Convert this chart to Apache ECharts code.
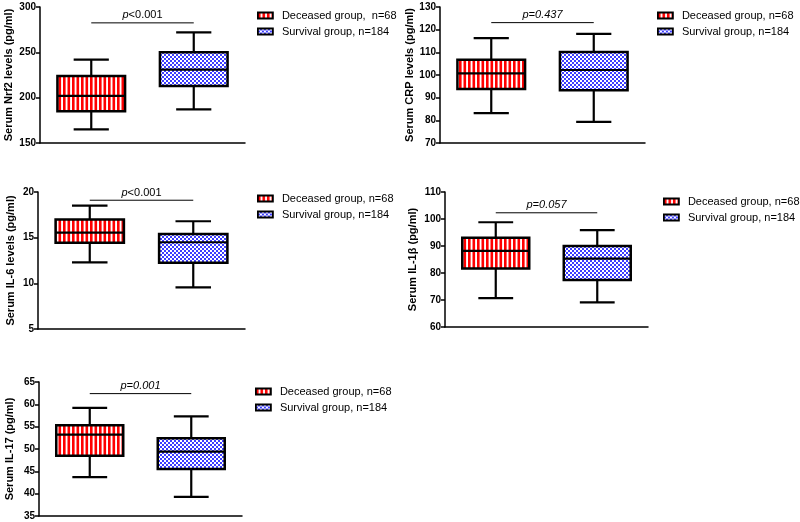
<!DOCTYPE html>
<html>
<head>
<meta charset="utf-8">
<script src="https://cdn.jsdelivr.net/npm/echarts@6/dist/echarts.min.js"></script>
<style>
html, body { margin: 0; padding: 0; background: #fff; }
#main { width: 800px; height: 522px; }
</style>
</head>
<body>
<div id="main"></div>
<script>
// groups on the x axis
var groups = ['Deceased', 'Survival'];

// box values: [min, Q1, median, Q3, max]
var nrf2Deceased = [165, 185, 202, 224, 242];
var nrf2Survival = [187, 213, 231, 250, 272];
var crpDeceased = [83.2, 93.8, 100.7, 106.7, 116.3];
var crpSurvival = [79.3, 93.3, 102.2, 110.2, 118.1];
var il6Deceased = [12.3, 14.45, 15.55, 17.0, 18.5];
var il6Survival = [9.55, 12.25, 14.5, 15.4, 16.8];
var il1bDeceased = [70.7, 81.7, 88.2, 93.1, 98.8];
var il1bSurvival = [69.1, 77.4, 85.3, 90.0, 95.9];
var il17Deceased = [43.7, 48.5, 53.2, 55.3, 59.2];
var il17Survival = [39.3, 45.5, 49.4, 52.4, 57.3];

// axis names and ranges
var yNames = ['Serum Nrf2 levels (pg/ml)', 'Serum CRP levels (pg/ml)', 'Serum IL-6 levels (pg/ml)',
    'Serum IL-1\u03b2 (pg/ml)', 'Serum IL-17 (pg/ml)'];
var yMins = [150, 70, 5, 60, 35];
var yMaxs = [300, 130, 20, 110, 65];
var yIntervals = [50, 10, 5, 10, 5];

// p values and the level of the bracket line
var pSigns = ['<', '=', '<', '=', '='];
var pValues = ['0.001', '0.437', '0.001', '0.057', '0.001'];
var pItalicAll = [false, true, false, true, true];
var pLevels = [282.5, 123.1, 19.1, 102.3, 62.4];

var deceasedNames = ['Deceased group,  n=68', 'Deceased group, n=68', 'Deceased group, n=68',
    'Deceased group, n=68', 'Deceased group, n=68'];
var survivalName = 'Survival group, n=184';

var deceasedData = [nrf2Deceased, crpDeceased, il6Deceased, il1bDeceased, il17Deceased];
var survivalData = [nrf2Survival, crpSurvival, il6Survival, il1bSurvival, il17Survival];

// layout of the five panels (px)
var grids = [
    {left: 40, top: 7, width: 205, height: 136},
    {left: 440, top: 7, width: 205, height: 136},
    {left: 38, top: 192, width: 207, height: 137},
    {left: 445, top: 192, width: 203, height: 135},
    {left: 39, top: 382, width: 203, height: 134}
];
var nameGaps = [26, 23, 22, 27, 24];
var legendPos = [
    {left: 257, top: 10},
    {left: 657, top: 10},
    {left: 257, top: 193},
    {left: 663, top: 196},
    {left: 255, top: 386}
];

// fill patterns
function stripePattern() {
    var c = document.createElement('canvas');
    c.width = 9; c.height = 4;
    var ctx = c.getContext('2d');
    ctx.fillStyle = '#ffffff';
    ctx.fillRect(0, 0, 9, 4);
    ctx.fillStyle = '#ff0000';
    ctx.fillRect(0, 0, 2.6, 4);
    ctx.fillRect(4.5, 0, 2.6, 4);
    return c;
}
function checkPattern() {
    var c = document.createElement('canvas');
    c.width = 4; c.height = 4;
    var ctx = c.getContext('2d');
    ctx.fillStyle = '#3d3dff';
    ctx.fillRect(0, 0, 4, 4);
    ctx.fillStyle = '#ffffff';
    ctx.fillRect(0, 0, 2, 2);
    ctx.fillRect(2, 2, 2, 2);
    return c;
}
var redFill = {image: stripePattern(), repeat: 'repeat'};
var blueFill = {image: checkPattern(), repeat: 'repeat'};

function renderBox(params, api) {
    var x = api.value(0);
    var p = [];
    for (var i = 1; i <= 5; i++) p.push(api.coord([x, api.value(i)]));
    var band = api.size([1, 0])[0];
    var half = band * 0.33;
    var cap = half * 0.52;
    var cx = p[0][0];
    var ls = {stroke: '#000', lineWidth: 2.2};
    return {
        type: 'group',
        children: [
            {type: 'line', shape: {x1: cx, y1: p[0][1], x2: cx, y2: p[1][1]}, style: ls},
            {type: 'line', shape: {x1: cx, y1: p[3][1], x2: cx, y2: p[4][1]}, style: ls},
            {type: 'line', shape: {x1: cx - cap, y1: p[0][1], x2: cx + cap, y2: p[0][1]}, style: ls},
            {type: 'line', shape: {x1: cx - cap, y1: p[4][1], x2: cx + cap, y2: p[4][1]}, style: ls},
            {type: 'rect', shape: {x: cx - half, y: p[3][1], width: half * 2, height: p[1][1] - p[3][1]},
                style: {fill: api.style().fill, stroke: '#000', lineWidth: 2.5}},
            {type: 'line', shape: {x1: cx - half, y1: p[2][1], x2: cx + half, y2: p[2][1]}, style: ls}
        ]
    };
}

function renderBracket(params, api) {
    var k = params.seriesIndex % 5;
    var a = api.coord([0, api.value(0)]);
    var b = api.coord([1, api.value(0)]);
    var txt = pItalicAll[k] ? '{i|p' + pSigns[k] + pValues[k] + '}'
        : '{i|p}{n|' + pSigns[k] + pValues[k] + '}';
    return {
        type: 'group',
        children: [
            {type: 'line', shape: {x1: a[0], y1: a[1], x2: b[0], y2: b[1]},
                style: {stroke: '#000', lineWidth: 1}},
            {type: 'text', x: (a[0] + b[0]) / 2, y: a[1] - 2,
                style: {
                    text: txt, align: 'center', verticalAlign: 'bottom',
                    rich: {
                        i: {fontStyle: 'italic', fontSize: 11, fontFamily: 'Liberation Sans', fill: '#000'},
                        n: {fontSize: 11, fontFamily: 'Liberation Sans', fill: '#000'}
                    }
                }}
        ]
    };
}

var xAxes = [], yAxes = [], series = [], legends = [];
var brackets = [];
for (var k = 0; k < 5; k++) {
    xAxes.push({
        gridIndex: k, type: 'category', data: groups,
        axisLine: {lineStyle: {color: '#000', width: 1.5}},
        axisTick: {alignWithLabel: true, length: 5, lineStyle: {color: '#000', width: 1.5}},
        axisLabel: {show: false},
        splitLine: {show: false}
    });
    yAxes.push({
        gridIndex: k, type: 'value', min: yMins[k], max: yMaxs[k], interval: yIntervals[k],
        name: yNames[k], nameLocation: 'middle', nameGap: nameGaps[k],
        nameTextStyle: {color: '#000', fontSize: 11, fontWeight: 'bold', fontFamily: 'Liberation Sans'},
        axisLine: {show: true, lineStyle: {color: '#000', width: 1.5}},
        axisTick: {show: true, length: 4, lineStyle: {color: '#000', width: 1.5}},
        axisLabel: {color: '#000', fontSize: 10, fontWeight: 'bold', fontFamily: 'Liberation Sans', margin: 4},
        splitLine: {show: false}
    });
    series.push({
        name: deceasedNames[k], type: 'custom', xAxisIndex: k, yAxisIndex: k,
        itemStyle: {color: redFill, borderColor: '#000', borderWidth: 2},
        encode: {x: 0, y: [1, 2, 3, 4, 5]},
        renderItem: renderBox,
        data: [[0].concat(deceasedData[k])]
    });
    series.push({
        name: survivalName, type: 'custom', xAxisIndex: k, yAxisIndex: k,
        itemStyle: {color: blueFill, borderColor: '#000', borderWidth: 2},
        encode: {x: 0, y: [1, 2, 3, 4, 5]},
        renderItem: renderBox,
        data: [[1].concat(survivalData[k])]
    });
    brackets.push({
        type: 'custom', xAxisIndex: k, yAxisIndex: k, silent: true,
        renderItem: renderBracket,
        encode: {y: 0},
        data: [[pLevels[k]]]
    });
    legends.push({
        left: legendPos[k].left, top: legendPos[k].top, orient: 'vertical', padding: 0,
        itemWidth: 15, itemHeight: 6, itemGap: 5, icon: 'rect',
        itemStyle: {borderColor: '#000', borderWidth: 1.8},
        data: [deceasedNames[k], survivalName],
        textStyle: {color: '#000', fontSize: 11, fontFamily: 'Liberation Sans', padding: [0, 0, 0, 4]}
    });
}
// bracket series get indexes 10..14 so seriesIndex % 5 maps to the panel
series = series.concat(brackets);

var chart = echarts.init(document.getElementById('main'));
chart.setOption({
    backgroundColor: '#fff',
    animation: false,
    grid: grids,
    xAxis: xAxes,
    yAxis: yAxes,
    legend: legends,
    series: series
});
</script>
</body>
</html>
